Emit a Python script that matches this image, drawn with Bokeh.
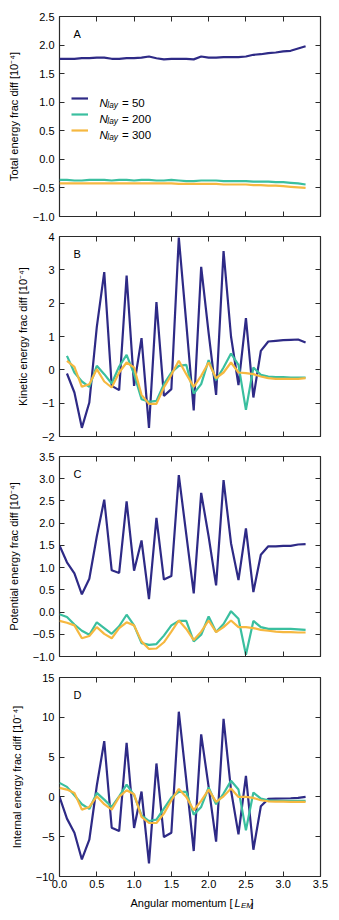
from bokeh.plotting import figure
from bokeh.layouts import column
from bokeh.models import (FixedTicker, LinearAxis, Label, Legend, LegendItem,
                          Range1d, CustomJSTickFormatter, ColumnDataSource)
from bokeh.core.properties import value
from bokeh.embed import file_html
from bokeh.resources import INLINE

NAN = float("nan")

# ---------------- data ----------------
ang_mom = [0.0, 0.1, 0.2, 0.3, 0.4, 0.5, 0.6, 0.7, 0.8, 0.9, 1.0, 1.1, 1.2, 1.3, 1.4, 1.5, 1.6,
           1.7, 1.8, 1.9, 2.0, 2.1, 2.2, 2.3, 2.4, 2.5, 2.6, 2.7, 2.8, 2.9, 3.0, 3.1, 3.2, 3.3]

series_labels = ["50", "200", "300"]

total_n50 = [1.76, 1.76, 1.76, 1.77, 1.77, 1.78, 1.78, 1.76, 1.76, 1.77, 1.77, 1.78, 1.80, 1.77,
             1.75, 1.76, 1.76, 1.76, 1.75, 1.80, 1.78, 1.78, 1.79, 1.79, 1.79, 1.80, 1.83, 1.84,
             1.86, 1.87, 1.89, 1.90, 1.94, 1.98]
total_n200 = [-0.36, -0.36, -0.37, -0.37, -0.36, -0.36, -0.36, -0.37, -0.36, -0.36, -0.37, -0.36,
              -0.36, -0.37, -0.37, -0.36, -0.37, -0.38, -0.38, -0.37, -0.37, -0.37, -0.38, -0.38,
              -0.38, -0.38, -0.39, -0.39, -0.39, -0.40, -0.40, -0.41, -0.42, -0.44]
total_n300 = [-0.42, -0.42, -0.42, -0.42, -0.42, -0.42, -0.42, -0.42, -0.42, -0.42, -0.42, -0.42,
              -0.42, -0.42, -0.42, -0.42, -0.43, -0.43, -0.43, -0.43, -0.43, -0.43, -0.44, -0.44,
              -0.44, -0.44, -0.45, -0.45, -0.46, -0.46, -0.47, -0.48, -0.49, -0.50]

kin_n50 = [NAN, -0.11, -0.68, -1.74, -0.98, 1.28, 2.93, -0.48, -0.61, 2.83, -0.48, 0.95, -1.74,
           2.03, -0.78, -0.58, 3.97, 1.40, -1.22, 3.09, 1.10, -0.75, 3.56, 1.00, -0.46, 1.55,
           -0.83, 0.57, 0.85, 0.87, 0.89, 0.90, 0.91, 0.82]
kin_n200 = [NAN, 0.42, -0.08, -0.35, -0.51, 0.12, -0.13, -0.41, 0.10, 0.45, -0.13, -0.88, -0.96,
            -0.93, -0.43, -0.08, 0.12, 0.15, -0.71, -0.43, 0.29, -0.31, 0.07, 0.49, 0.15, -1.20,
            0.07, -0.15, -0.20, -0.22, -0.22, -0.23, -0.23, -0.23]
kin_n300 = [NAN, 0.27, 0.09, -0.51, -0.43, 0.02, -0.35, -0.53, -0.08, 0.22, 0.07, -0.75, -1.02,
            -1.02, -0.53, -0.15, 0.27, -0.13, -0.51, -0.18, 0.22, -0.25, -0.08, 0.22, -0.08,
            -0.10, -0.13, -0.20, -0.25, -0.27, -0.27, -0.27, -0.27, -0.25]

pot_n50 = [1.50, 1.12, 0.87, 0.40, 0.75, 1.70, 2.53, 0.94, 0.88, 2.49, 0.93, 1.61, 0.29, 2.12,
           0.73, 0.81, 3.08, 1.75, 0.42, 2.68, 1.70, 0.60, 2.97, 1.55, 0.72, 1.88, 0.45, 1.29,
           1.48, 1.48, 1.49, 1.49, 1.52, 1.53]
pot_n200 = [-0.05, -0.11, -0.28, -0.42, -0.51, -0.23, -0.36, -0.49, -0.32, -0.06, -0.30, -0.70,
            -0.74, -0.72, -0.53, -0.30, -0.20, -0.20, -0.66, -0.51, -0.10, -0.45, -0.27, 0.02,
            -0.15, -0.96, -0.20, -0.34, -0.38, -0.38, -0.38, -0.38, -0.39, -0.40]
pot_n300 = [-0.20, -0.24, -0.30, -0.59, -0.54, -0.34, -0.49, -0.59, -0.36, -0.23, -0.30, -0.66,
            -0.83, -0.82, -0.68, -0.44, -0.19, -0.38, -0.63, -0.44, -0.19, -0.45, -0.34, -0.19,
            -0.34, -0.34, -0.36, -0.40, -0.42, -0.44, -0.45, -0.45, -0.46, -0.46]

int_n50 = [0.0, -2.73, -4.5, -7.86, -5.38, 1.4, 7.0, -3.87, -4.29, 6.8, -3.9, 0.67, -8.36, 4.2,
           -5.04, -4.5, 10.7, 2.1, -6.8, 7.86, 1.26, -5.63, 9.8, 0.84, -4.7, 2.65, -6.64, -1.18,
           -0.25, -0.21, -0.20, -0.17, -0.13, 0.0]
int_n200 = [1.76, 1.26, 0.21, -0.92, -1.51, 0.5, -0.34, -1.26, 0.08, 1.55, 0.21, -2.31, -3.03,
            -2.86, -1.47, -0.08, 0.63, 0.63, -2.23, -1.26, 1.18, -0.92, 0.42, 2.02, 0.92, -4.2,
            0.55, -0.21, -0.42, -0.50, -0.50, -0.50, -0.50, -0.50]
int_n300 = [1.13, 0.92, 0.5, -1.6, -1.26, 0.08, -0.92, -1.6, 0.0, 0.84, 0.34, -2.52, -3.28, -3.28,
            -2.1, -0.42, 1.0, 0.0, -1.68, -0.5, 0.92, -0.63, 0.08, 1.05, 0.0, 0.0, -0.13, -0.42,
            -0.55, -0.60, -0.60, -0.62, -0.62, -0.62]

x_ticks = [0.0, 0.5, 1.0, 1.5, 2.0, 2.5, 3.0, 3.5]
ticks_total = [-1.0, -0.5, 0.0, 0.5, 1.0, 1.5, 2.0, 2.5]
ticks_kin = [-2, -1, 0, 1, 2, 3, 4]
ticks_pot = [-1.0, -0.5, 0.0, 0.5, 1.0, 1.5, 2.0, 2.5, 3.0, 3.5]
ticks_int = [-10, -5, 0, 5, 10, 15]

# ---------------- style ----------------
COLORS = ["#2E2A86", "#3ABF9F", "#F6B840"]
FONT = "Liberation Sans"
FRAME_COLOR = "#2b2b2b"
W = 339
LEFT = 59
RIGHT = 19
TICK = 5


def fmt(dec):
    return CustomJSTickFormatter(code="return tick.toFixed(%d).replace('-', '\u2212');" % dec)


def blank_axis(ticks):
    return LinearAxis(ticker=FixedTicker(ticks=ticks),
                      formatter=CustomJSTickFormatter(code="return '';"),
                      major_label_text_font_size="1px", major_label_standoff=0,
                      major_tick_in=TICK, major_tick_out=0, minor_tick_in=0, minor_tick_out=0,
                      major_tick_line_color=FRAME_COLOR, axis_line_color=None)


def make_panel(letter, ylabel, ys, yrange, yticks, ydec, top, bottom, height, show_x):
    p = figure(width=W, height=height, x_range=Range1d(0, 3.5),
               y_range=Range1d(*yrange), output_backend="svg", toolbar_location=None,
               x_axis_type=None, y_axis_type=None, min_border_left=LEFT,
               min_border_right=RIGHT, min_border_top=top, min_border_bottom=bottom)
    p.outline_line_color = FRAME_COLOR
    p.outline_line_width = 1.2
    p.xgrid.visible = False
    p.ygrid.visible = False
    p.background_fill_color = "white"
    p.border_fill_color = "white"

    yax = LinearAxis(ticker=FixedTicker(ticks=yticks), formatter=fmt(ydec),
                     axis_label=ylabel, axis_label_text_font=FONT,
                     axis_label_text_font_size="11px", axis_label_text_font_style="normal",
                     axis_label_text_color="black", axis_label_standoff=10,
                     major_label_text_font=FONT, major_label_text_font_size="11px",
                     major_label_text_color="black", major_label_standoff=5,
                     major_tick_in=TICK, major_tick_out=0, minor_tick_in=0, minor_tick_out=0,
                     major_tick_line_color=FRAME_COLOR, axis_line_color=None)
    p.add_layout(yax, "left")
    p.add_layout(blank_axis(yticks), "right")
    p.add_layout(blank_axis(x_ticks), "above")
    if show_x:
        xax = LinearAxis(ticker=FixedTicker(ticks=x_ticks), formatter=fmt(1),
                         major_label_text_font=FONT, major_label_text_font_size="11px",
                         major_label_text_color="black", major_label_standoff=3,
                         major_tick_in=TICK, major_tick_out=0, minor_tick_in=0,
                         minor_tick_out=0, major_tick_line_color=FRAME_COLOR,
                         axis_line_color=None)
        p.add_layout(xax, "below")
    else:
        p.add_layout(blank_axis(x_ticks), "below")

    renderers = []
    for vals, col in zip(ys, COLORS):
        src = ColumnDataSource(dict(x=ang_mom, y=vals))
        r = p.line("x", "y", source=src, line_color=col, line_width=2.2)
        renderers.append(r)

    fh = height - top - bottom
    p.add_layout(Label(x=14, y=fh - 17, x_units="screen", y_units="screen", text=letter,
                       text_font=FONT, text_font_size="11px", text_baseline="middle",
                       text_color="black"))
    return p, renderers


pA, rA = make_panel("A", "Total energy frac diff [10\u207b\u2074]",
                    [total_n50, total_n200, total_n300], (-1.0, 2.5), ticks_total, 1,
                    16, 10, 226, False)
pB, _ = make_panel("B", "Kinetic energy frac diff [10\u207b\u2074]",
                   [kin_n50, kin_n200, kin_n300], (-2, 4), ticks_kin, 0, 10, 10, 220, False)
pC, _ = make_panel("C", "Potential energy frac diff [10\u207b\u2074]",
                   [pot_n50, pot_n200, pot_n300], (-1.0, 3.5), ticks_pot, 1, 10, 10, 220, False)
pD, _ = make_panel("D", "Internal energy frac diff [10\u207b\u2074]",
                   [int_n50, int_n200, int_n300], (-10, 15), ticks_int, 0, 11, 16, 226, True)

# legend (glyphs from Bokeh, label text overlaid with math-like styling)
legend = Legend(items=[LegendItem(label=value(" "), renderers=[r]) for r in rA],
                location=(12, 78), glyph_width=17, glyph_height=16, label_height=16,
                label_text_font_size="6px", spacing=0, padding=0, margin=0,
                border_line_color=None, background_fill_alpha=0)
pA.add_layout(legend, "center")
for i, lab in enumerate(series_labels):
    base = 114 - 16 * i
    pA.add_layout(Label(x=40, y=base, x_units="screen", y_units="screen", text="N",
                        text_font=FONT, text_font_size="11.5px", text_font_style="italic",
                        text_baseline="alphabetic", text_color="black"))
    pA.add_layout(Label(x=47.8, y=base - 2.5, x_units="screen", y_units="screen", text="lay",
                        text_font=FONT, text_font_size="8.3px", text_font_style="italic",
                        text_baseline="alphabetic", text_color="black"))
    pA.add_layout(Label(x=62.5, y=base, x_units="screen", y_units="screen", text="= " + lab,
                        text_font=FONT, text_font_size="11.5px",
                        text_baseline="alphabetic", text_color="black"))

# x-axis label strip under the bottom panel (italic subscripted unit)
strip = figure(width=W, height=28, x_range=Range1d(0, 3.5), y_range=Range1d(0, 1),
               output_backend="svg", toolbar_location=None, x_axis_type=None,
               y_axis_type=None, min_border_left=LEFT, min_border_right=RIGHT,
               min_border_top=0, min_border_bottom=0)
strip.outline_line_color = None
strip.xgrid.visible = False
strip.ygrid.visible = False
for txt, xx, dy, size, style in [("Angular momentum [", 71, 0, "11px", "normal"),
                                 ("L", 175, 0, "11px", "italic"),
                                 ("EM", 181.5, -2.5, "8px", "italic"),
                                 ("]", 191, 0, "11px", "normal")]:
    strip.add_layout(Label(x=xx, y=18 + dy, x_units="screen", y_units="screen", text=txt,
                           text_font=FONT, text_font_size=size, text_font_style=style,
                           text_baseline="alphabetic", text_color="black"))

layout = column(pA, pB, pC, pD, strip, spacing=0)
open("out.html", "w").write(file_html(layout, INLINE))
